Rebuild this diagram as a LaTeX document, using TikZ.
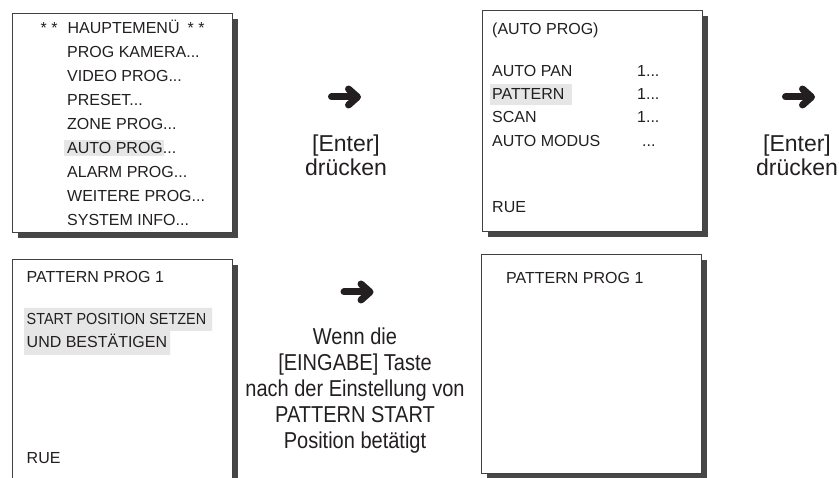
\documentclass[tikz,border=0pt]{standalone}
\usepackage{fontspec}
\setmainfont{Liberation Sans}
\newfontfamily\osdfont{Liberation Sans}
\newfontfamily\engfont[FakeStretch=0.9]{Liberation Sans}
\newfontfamily\schmalfont[FakeStretch=0.87]{Liberation Sans}
\usetikzlibrary{shadows}
\definecolor{osdgrau}{RGB}{230,230,230}
\definecolor{schrift}{RGB}{35,31,32}
\newcommand\menutext{\osdfont\fontsize{16}{19}\selectfont}
\newcommand\entertext{\osdfont\fontsize{23}{24}\selectfont}
\newcommand\hinweistext{\schmalfont\fontsize{23}{26}\selectfont}

\begin{document}
\begin{tikzpicture}[x=1pt,y=-1pt,
      screen/.style={draw=schrift!85,line width=0.9pt,fill=white,anchor=north west,inner sep=0pt,
        minimum width=220pt,drop shadow={shadow xshift=6pt,shadow yshift=-6pt,opacity=1,fill=black!72}},
      osd/.style={anchor=base west,inner sep=0pt,text=schrift,font=\menutext},
      hinweis/.style={anchor=north,inner sep=0pt,align=center,text=schrift,font=\hinweistext},
      markiert/.style={fill=osdgrau},
      pfeilstrich/.style={line width=7pt,line cap=round,line join=round,schrift},
      pfeil/.pic={\draw[pfeilstrich] (-13,0) -- (12,0);
                  \draw[pfeilstrich] (4,-8) -- (13,0) -- (4,8);}]
    \useasboundingbox (0,0) rectangle (839,478);
    \clip (0,0) rectangle (839,478);
    % Bildschirme
    \node[screen,minimum height=219pt] (hauptmenue) at (12,13) {};
    \node[screen,minimum height=221pt] (autoprog) at (482,10) {};
    \node[screen,minimum height=235pt] (startpos) at (12,259) {};
    \node[screen,minimum height=219pt] (patternprog) at (481,254) {};
    % Markierungen
    \fill[markiert] (64,140) rectangle (164,156);
    \fill[markiert] (490,84) rectangle (572,105);
    \fill[markiert] (24,308) -- (212,308) -- (212,331) -- (170,331) -- (170,355) -- (24,355) -- cycle;
    % Hauptmenue
    \node[osd] (t0) at (40.5,33.3) {* *\hspace{10pt}HAUPTEMENÜ\hspace{8pt}* *};
    \node[osd] (t1) at (67,57.3) {PROG KAMERA...};
    \node[osd] (t2) at (67,81.3) {VIDEO PROG...};
    \node[osd] (t3) at (67,105.3) {PRESET...};
    \node[osd] (t4) at (67,129.3) {ZONE PROG...};
    \node[osd] (t5) at (67,153.3) {AUTO PROG...};
    \node[osd] (t6) at (67,177.3) {ALARM PROG...};
    \node[osd] (t7) at (67,201.3) {WEITERE PROG...};
    \node[osd] (t8) at (67,225.3) {SYSTEM INFO...};
    % Auto-Menue
    \node[osd] (a0) at (492,35) {(AUTO PROG)};
    \node[osd] (a1) at (492,77) {AUTO PAN};
    \node[osd] (a2) at (492,100) {PATTERN};
    \node[osd] (a3) at (492,123) {SCAN};
    \node[osd] (a4) at (492,147) {AUTO MODUS};
    \node[osd] (a5) at (492,213) {RUE};
    \node[osd] (w1) at (637,77) {1...};
    \node[osd] (w2) at (637,100) {1...};
    \node[osd] (w3) at (637,123) {1...};
    \node[osd] (w4) at (642,147) {...};
    % Pattern-Menues
    \node[osd] (s0) at (26.5,283) {PATTERN PROG 1};
    \node[osd,font=\engfont\fontsize{16}{19}\selectfont] (s1) at (26.5,325) {START POSITION SETZEN};
    \node[osd] (s2) at (26.5,348) {UND BESTÄTIGEN};
    \node[osd] (s3) at (26.5,464) {RUE};
    \node[osd] (p0) at (506,284) {PATTERN PROG 1};
    % Pfeile und Hinweise
    \pic at (344.5,97) {pfeil};
    \pic at (798.5,97) {pfeil};
    \pic at (357,292) {pfeil};
    \node[hinweis,font=\entertext] (enter1) at (346,135) {[Enter]\\drücken};
    \node[hinweis,font=\entertext] (enter2) at (797,135) {[Enter]\\drücken};
    \node[hinweis] (eingabe) at (355,328) {Wenn die\\{}[EINGABE] Taste\\nach der Einstellung von\\PATTERN START\\Position betätigt};
\end{tikzpicture}
\end{document}
